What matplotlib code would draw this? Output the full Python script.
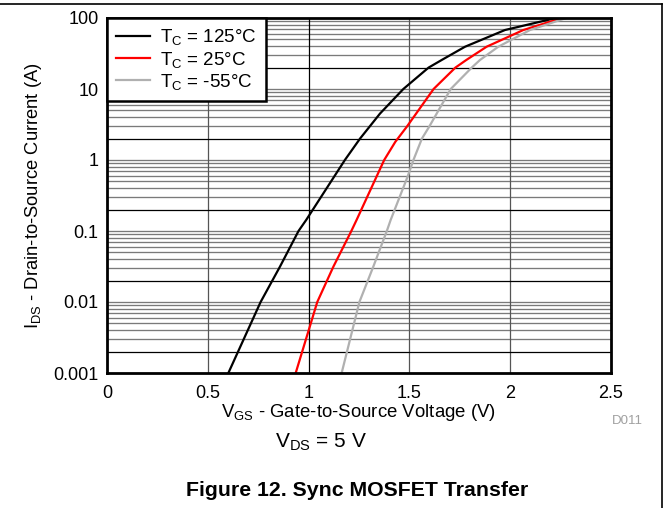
import matplotlib
matplotlib.use("Agg")
import matplotlib.pyplot as plt
from matplotlib.lines import Line2D
from matplotlib.ticker import FixedLocator, NullFormatter

plt.rcParams['font.family'] = ['Liberation Sans', 'DejaVu Sans']
plt.rcParams['mathtext.fontset'] = 'custom'
plt.rcParams['mathtext.rm'] = 'Liberation Sans'
plt.rcParams['mathtext.it'] = 'Liberation Sans'

# ---- data ----
vgs_125 = [0.602, 0.762, 0.858, 0.950, 0.988, 1.180, 1.255, 1.354, 1.470, 1.595, 1.660, 1.776, 1.974, 2.214, 2.24]
ids_125 = [0.001, 0.01, 0.0315, 0.1, 0.143, 1.0, 2.0, 4.5, 10.0, 20.0, 25.6, 39.4, 67.7, 98.0, 100.0]

vgs_25 = [0.936, 1.043, 1.123, 1.212, 1.238, 1.375, 1.430, 1.487, 1.620, 1.728, 1.782, 1.883, 2.065, 2.247, 2.26]
ids_25 = [0.001, 0.01, 0.0315, 0.1, 0.143, 1.0, 1.8, 2.94, 10.0, 20.0, 25.6, 39.4, 67.7, 98.0, 100.0]

vgs_m55 = [1.164, 1.252, 1.321, 1.388, 1.407, 1.491, 1.520, 1.562, 1.598, 1.705, 1.809, 1.850, 1.941, 2.098, 2.264, 2.28]
ids_m55 = [0.001, 0.01, 0.0315, 0.1, 0.143, 0.582, 1.0, 2.0, 2.94, 10.0, 20.0, 25.6, 39.4, 67.7, 97.0, 100.0]

labels = [r'T$\mathregular{_C}$ = 125°C', r'T$\mathregular{_C}$ = 25°C', r'T$\mathregular{_C}$ = -55°C']
colors = ['black', '#ff0000', '#b0b0b0']

x_ticks = [0, 0.5, 1, 1.5, 2, 2.5]
x_tick_labels = ['0', '0.5', '1', '1.5', '2', '2.5']
y_ticks = [0.001, 0.01, 0.1, 1, 10, 100]
y_tick_labels = ['0.001', '0.01', '0.1', '1', '10', '100']

fig = plt.figure(figsize=(6.69, 5.08), dpi=100)
ax = fig.add_axes([107/669, 1 - 373/508, (611-107)/669, (373-18)/508])
ax.set_yscale('log')
ax.set_xlim(0, 2.5)
ax.set_ylim(0.001, 100)

# grid lines
for e in range(-3, 2):
    for k in range(1, 10):
        v = k * 10.0**e
        if v <= 0.001 or v >= 100:
            continue
        if k == 2:
            ax.axhline(v, color='black', lw=0.9, zorder=1.2)
        else:
            ax.axhline(v, color='#7a7a7a', lw=0.95, zorder=1)
for xv in [0.5, 1.0, 1.5, 2.0]:
    ax.axvline(xv, color='black' if xv == 1.0 else '#555555', lw=0.9, zorder=1.1)

for xs, ys, lab, c in zip([vgs_125, vgs_25, vgs_m55], [ids_125, ids_25, ids_m55], labels, colors):
    ax.plot(xs, ys, color=c, lw=1.6, label=lab, zorder=3, solid_joinstyle='round')

ax.set_xticks(x_ticks)
ax.set_xticklabels(x_tick_labels)
ax.set_yticks(y_ticks)
ax.set_yticklabels(y_tick_labels)
ax.yaxis.set_minor_locator(FixedLocator([]))
ax.yaxis.set_minor_formatter(NullFormatter())
ax.tick_params(axis='both', which='both', length=0, labelsize=13)
ax.tick_params(axis='x', pad=8.5)
ax.tick_params(axis='y', pad=6)

for s in ax.spines.values():
    s.set_linewidth(2.0)
    s.set_color('black')
    s.set_zorder(5)

ax.set_xlabel(r'V$\mathregular{_{GS}}$ - Gate-to-Source Voltage (V)', fontsize=13.4, labelpad=0)
ax.set_ylabel(r'I$\mathregular{_{DS}}$ - Drain-to-Source Current (A)', fontsize=13.2, labelpad=7)

leg = ax.legend(loc='upper left', bbox_to_anchor=(0, 1), borderaxespad=0.0, fontsize=13.5,
                fancybox=False, framealpha=1, edgecolor='black', handlelength=1.8,
                handletextpad=0.55, labelspacing=0.12, borderpad=0.5)
leg.get_frame().set_linewidth(1.8)
leg.set_zorder(6)

fig.text(627/669, 1 - 421/508, 'D011', fontsize=9.5, color='#a0a0a0', ha='center', va='center')
fig.text(321/669, 1 - 442/508, r'V$\mathregular{_{DS}}$ = 5 V', fontsize=15, ha='center', va='center')
fig.text(357/669, 1 - 490/508, 'Figure 12. Sync MOSFET Transfer', fontsize=15.3, fontweight='bold',
         ha='center', va='center')

# page frame lines (top and right)
fig.add_artist(Line2D([0, 662/669], [1 - 4/508, 1 - 4/508], transform=fig.transFigure, color='black', lw=1.2))
fig.add_artist(Line2D([662/669, 662/669], [1 - 4/508, 0], transform=fig.transFigure, color='black', lw=1.2))

fig.savefig('out.png', dpi=100)
